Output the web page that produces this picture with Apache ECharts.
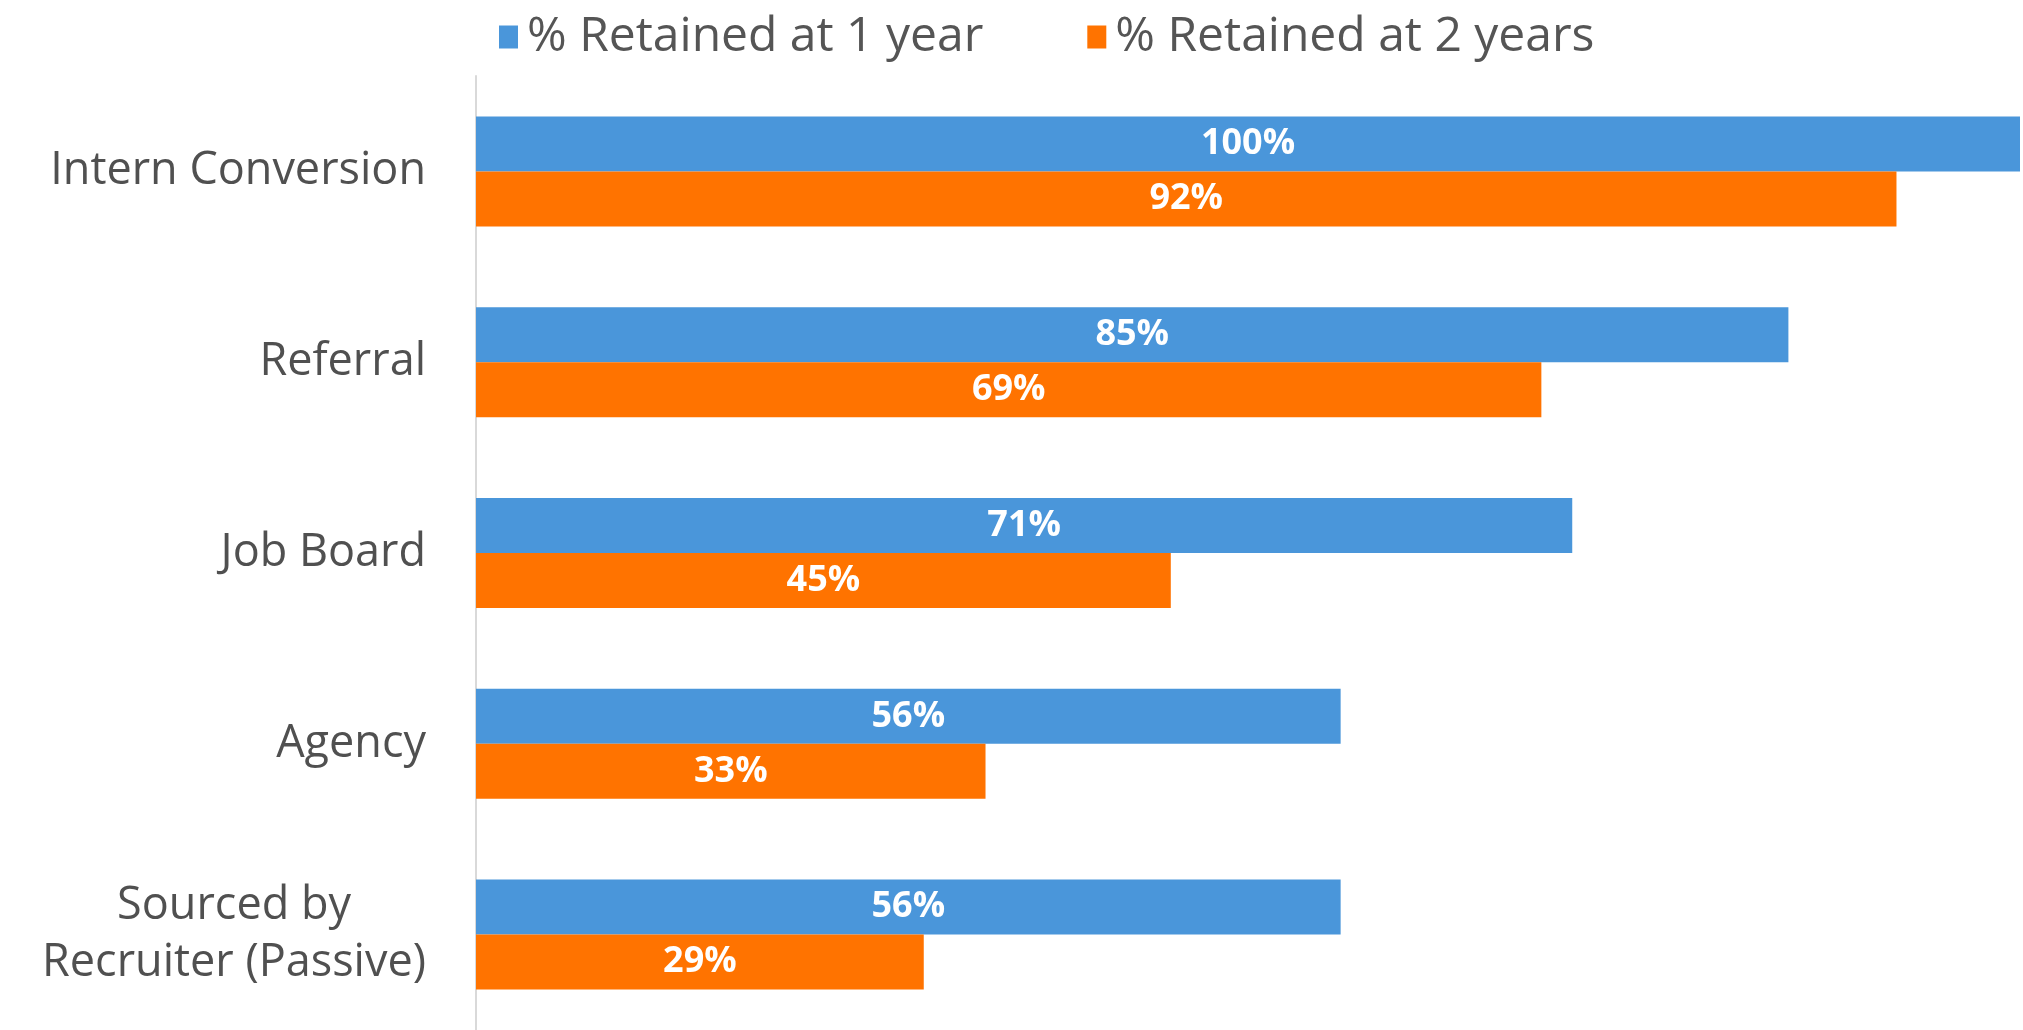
<!DOCTYPE html>
<html><head><meta charset="utf-8">
<script src="https://cdn.jsdelivr.net/npm/echarts@6/dist/echarts.min.js"></script>
<style>html,body{margin:0;padding:0;background:#fff}#c{width:2023px;height:1030px}</style>
</head><body><div id="c"></div>
<script>
const categories = ['Intern Conversion', 'Referral', 'Job Board', 'Agency', 'Sourced by\nRecruiter (Passive)'];
const seriesNames = ['% Retained at 1 year', '% Retained at 2 years'];
const retained1 = [100, 85, 71, 56, 56];
const retained2 = [92, 69, 45, 33, 29];
const colors = ['#4A96DA', '#FF7300'];

const chart = echarts.init(document.getElementById('c'));
const labelStyle = {
  show: true, position: 'inside', color: '#fff', fontWeight: 'bold',
  fontFamily: 'Open Sans', fontSize: 36, formatter: p => p.value + '%'
};
chart.setOption({
  animation: false,
  legend: {
    top: 8, left: 494, itemWidth: 19, itemHeight: 23, itemGap: 104,
    icon: 'rect',
    textStyle: { fontFamily: 'Open Sans', fontSize: 48, color: '#555', padding: [0, 0, 0, 4] },
    data: seriesNames
  },
  grid: { left: 476, right: 3, top: 76, bottom: -4, containLabel: false },
  xAxis: { type: 'value', min: 0, max: 100, show: false },
  yAxis: {
    type: 'category', data: categories, inverse: true,
    axisLine: { show: true, lineStyle: { color: '#d9d9d9', width: 2 } },
    axisTick: { show: false },
    axisLabel: {
      margin: 50, fontFamily: 'Open Sans', fontSize: 45, color: '#505050', lineHeight: 57,
      formatter: v => v.split('\n').map(s => '{c|' + s + '}').join('\n'),
      rich: { c: { align: 'center', fontFamily: 'Open Sans', fontSize: 45, color: '#505050', lineHeight: 57 } }
    }
  },
  series: [
    { name: seriesNames[0], type: 'bar', data: retained1, itemStyle: { color: colors[0] },
      barWidth: 55, barGap: '0%', label: labelStyle },
    { name: seriesNames[1], type: 'bar', data: retained2, itemStyle: { color: colors[1] },
      barWidth: 55, barGap: '0%', label: labelStyle }
  ]
});
</script></body></html>
